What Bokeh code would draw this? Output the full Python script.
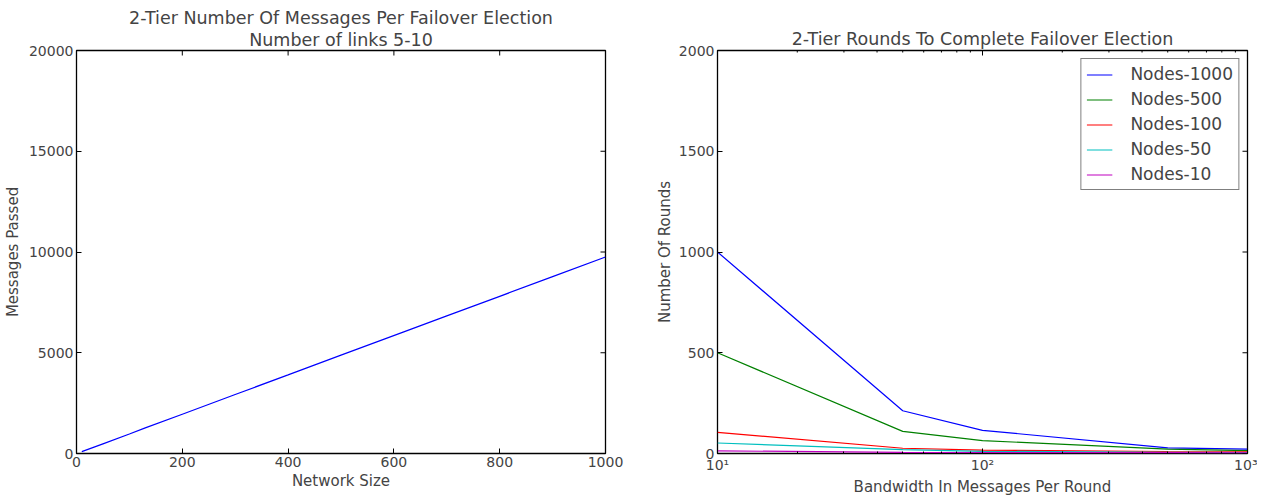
import math
from bokeh.plotting import figure
from bokeh.layouts import row
from bokeh.models import (Title, Range1d, FixedTicker, Legend, LegendItem,
                          BasicTickFormatter)
from bokeh.embed import file_html
from bokeh.resources import INLINE

FONT = "DejaVu Sans"

# ---- data: left panel ----
network_size = [10, 50, 100, 130, 200, 300, 400, 500, 620, 700, 800, 900, 1000]
messages_passed = [90, 480, 970, 1270, 1950, 2930, 3900, 4880, 6050, 6830, 7800, 8780, 9750]
left_xticks = [0, 200, 400, 600, 800, 1000]
left_yticks = [0, 5000, 10000, 15000, 20000]

# ---- data: right panel ----
bandwidth = [10, 50, 100, 500, 1000]
rounds_1000 = [1000, 212, 115, 28, 22]
rounds_500 = [500, 110, 64, 22, 14]
rounds_100 = [105, 26, 17, 10, 8]
rounds_50 = [52, 19, 11, 6, 5]
rounds_10 = [13, 6, 5, 4, 3]
right_series = [rounds_1000, rounds_500, rounds_100, rounds_50, rounds_10]
series_labels = ["Nodes-1000", "Nodes-500", "Nodes-100", "Nodes-50", "Nodes-10"]
series_colors = ["#0000ff", "#008000", "#ff0000", "#00bfbf", "#bf00bf"]
right_yticks = [0, 500, 1000, 1500, 2000]
right_xticks = [10, 100, 1000]
right_xminor = [20, 30, 40, 50, 60, 70, 80, 90, 200, 300, 400, 500, 600, 700, 800, 900]
right_xtick_labels = {10: "10\u00b9", 100: "10\u00b2", 1000: "10\u00b3"}

TICK_FS = "14px"
LABEL_FS = "15px"
TITLE_FS = "17.5px"
LEGEND_FS = "17px"


def style_axis(ax):
    ax.axis_line_color = None
    ax.major_tick_in = 5
    ax.major_tick_out = 0
    ax.minor_tick_in = 0
    ax.minor_tick_out = 0
    ax.major_tick_line_color = "black"
    ax.major_label_text_font = FONT
    ax.major_label_text_font_size = TICK_FS
    ax.major_label_standoff = 3
    ax.axis_label_text_font = FONT
    ax.axis_label_text_font_style = "normal"
    ax.axis_label_text_font_size = LABEL_FS
    ax.axis_label_standoff = 2


def base_fig(fw, bl, br, **kw):
    p = figure(frame_width=fw, frame_height=403, title=None,
               toolbar_location=None, output_backend="svg",
               min_border_left=bl, min_border_right=br, min_border_top=50,
               min_border_bottom=35, **kw)
    p.grid.visible = False
    p.outline_line_color = "black"
    p.outline_line_width = 1.3
    p.background_fill_color = "white"
    p.border_fill_color = "white"
    return p


def title(text, standoff):
    return Title(text=text, align="center", text_font=FONT,
                 text_font_size=TITLE_FS, text_font_style="normal",
                 standoff=standoff)


# ---------------- left panel ----------------
p1 = base_fig(529, 68, 47, x_range=Range1d(0, 1000), y_range=Range1d(0, 20000))
p1.min_border_left = 68
p1.line(network_size, messages_passed, line_color="#0000ff", line_width=1.2)
p1.xaxis.ticker = FixedTicker(ticks=left_xticks)
p1.yaxis.ticker = FixedTicker(ticks=left_yticks)
p1.xaxis.axis_label = "Network Size"
p1.yaxis.axis_label = "Messages Passed"
for ax in p1.xaxis + p1.yaxis:
    style_axis(ax)
p1.yaxis.axis_label_standoff = 4
# inward ticks on the top and right edges of the frame
p1.ray(x=left_xticks, y=[p1.y_range.end] * len(left_xticks), length=5,
       length_units="screen", angle=-math.pi / 2, line_color="black")
p1.ray(x=[p1.x_range.end] * len(left_yticks), y=left_yticks, length=5,
       length_units="screen", angle=math.pi, line_color="black")
p1.add_layout(title("Number of links 5-10", 1), "above")
p1.add_layout(title("2-Tier Number Of Messages Per Failover Election", 0), "above")

# ---------------- right panel ----------------
p2 = base_fig(530, 60, 10, x_axis_type="log", x_range=Range1d(10, 1000),
              y_range=Range1d(0, 2000))
items = []
for vals, lab, col in zip(right_series, series_labels, series_colors):
    r = p2.line(bandwidth, vals, line_color=col, line_width=1.2)
    items.append(LegendItem(label=lab, renderers=[r]))
p2.xaxis.ticker = FixedTicker(ticks=right_xticks, minor_ticks=right_xminor)
p2.xaxis.formatter = BasicTickFormatter()
p2.xaxis.major_label_overrides = right_xtick_labels
p2.yaxis.ticker = FixedTicker(ticks=right_yticks)
p2.xaxis.axis_label = "Bandwidth In Messages Per Round"
p2.yaxis.axis_label = "Number Of Rounds"
for ax in p2.xaxis + p2.yaxis:
    style_axis(ax)
p2.xaxis.minor_tick_in = 2
p2.xaxis.minor_tick_line_color = "black"
p2.ray(x=right_xticks, y=[p2.y_range.end] * len(right_xticks), length=5,
       length_units="screen", angle=-math.pi / 2, line_color="black")
p2.ray(x=right_xminor, y=[p2.y_range.end] * len(right_xminor), length=2,
       length_units="screen", angle=-math.pi / 2, line_color="black")
p2.ray(x=[p2.x_range.end] * len(right_yticks), y=right_yticks, length=5,
       length_units="screen", angle=math.pi, line_color="black")
p2.add_layout(title("2-Tier Rounds To Complete Failover Election", 4), "above")

legend = Legend(items=items, location="top_right")
legend.label_text_font = FONT
legend.label_text_font_size = LEGEND_FS
legend.border_line_color = "black"
legend.border_line_width = 1.5
legend.background_fill_alpha = 1
legend.padding = 5
legend.spacing = 5
legend.margin = 8
legend.glyph_width = 26
legend.glyph_height = 19
legend.label_height = 19
legend.label_standoff = 18
p2.add_layout(legend)

layout = row(p1, p2)
open("out.html", "w").write(file_html(layout, INLINE))
